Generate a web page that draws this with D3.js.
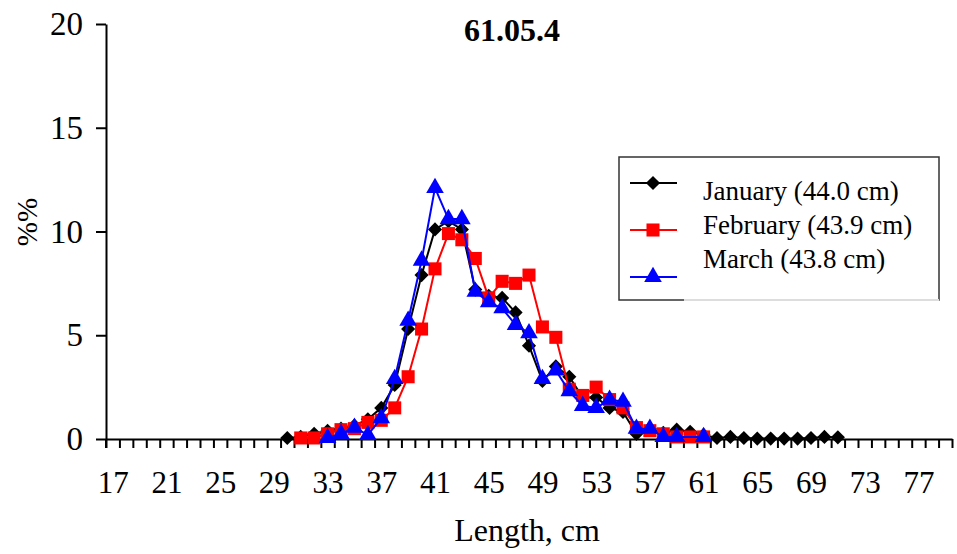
<!DOCTYPE html>
<html>
<head>
<meta charset="utf-8">
<script src="https://cdn.jsdelivr.net/npm/d3@7"></script>
<style>
  body { margin: 0; background: #fff; }
  text { font-family: "Liberation Serif", "DejaVu Serif", serif; fill: #000; }
</style>
</head>
<body>
<div id="chart"></div>
<script>
// categories (length, cm) and tick labels
var lengths = d3.range(17, 80);
var xLabels = [17, 21, 25, 29, 33, 37, 41, 45, 49, 53, 57, 61, 65, 69, 73, 77];
var yTicks = [0, 5, 10, 15, 20];

// series values, %% by length class
var janLen = d3.range(30, 72);
var janVal = [0.05, 0.1, 0.25, 0.4, 0.5, 0.65, 0.95, 1.5, 2.6, 5.3, 7.9, 10.1, 10.5, 10.1,
  7.2, 6.9, 6.8, 6.1, 4.5, 2.8, 3.5, 3.0, 2.0, 2.0, 1.5, 1.3, 0.25, 0.5, 0.3, 0.45, 0.35, 0.2,
  0.05, 0.1, 0.05, 0.02, 0.02, 0.02, 0.02, 0.05, 0.1, 0.08];
var febLen = d3.range(31, 62);
var febVal = [0.05, 0.05, 0.25, 0.45, 0.5, 0.8, 0.9, 1.5, 3.0, 5.3, 8.2, 9.9, 9.6, 8.7,
  6.8, 7.6, 7.5, 7.9, 5.4, 4.9, 2.4, 2.1, 2.5, 1.9, 1.5, 0.55, 0.4, 0.25, 0.1, 0.1, 0.1];
var marLen = d3.range(33, 62);
var marVal = [0.05, 0.25, 0.55, 0.2, 1.0, 2.9, 5.7, 8.6, 12.1, 10.6, 10.6, 7.1, 6.6, 6.3,
  5.5, 5.1, 2.9, 3.3, 2.3, 1.6, 1.5, 1.9, 1.8, 0.5, 0.5, 0.1, 0.1, null, 0.1];

var seriesNames = ["January (44.0 cm)", "February (43.9 cm)", "March (43.8 cm)"];
var seriesColors = ["#000000", "#ff0000", "#0000ff"];
var seriesShapes = [d3.symbolSquare, d3.symbolSquare, d3.symbolTriangle];
var seriesSizes = [100, 170, 135];
var seriesRotate = [45, 0, 0];

function pairs(ls, vs) {
  return ls.map(function(l, i) { return {x: l, y: vs[i]}; })
    .filter(function(d) { return d.y != null; });
}
var series = [pairs(janLen, janVal), pairs(febLen, febVal), pairs(marLen, marVal)];

var W = 957, H = 554;
var plotLeft = 106, plotRight = 952, plotTop = 24, plotBottom = 439;

var svg = d3.select("#chart").append("svg")
    .attr("width", W)
    .attr("height", H);

var xScale = d3.scaleLinear()
    .domain([16.5, 79.5])
    .range([plotLeft, plotRight]);

var yScale = d3.scaleLinear()
    .domain([0, 20])
    .range([plotBottom, plotTop]);

// x tick marks between categories
svg.append("g")
    .attr("transform", "translate(0," + plotBottom + ")")
    .call(d3.axisBottom(xScale)
        .tickValues(d3.range(16.5, 79.6, 1))
        .tickSize(9)
        .tickSizeOuter(0)
        .tickFormat(""))
    .call(function(g) {
      g.selectAll("line").attr("stroke", "#000").attr("stroke-width", 2);
      g.select(".domain").attr("stroke", "#000").attr("stroke-width", 2);
    });

// x labels
svg.append("g")
    .attr("transform", "translate(0," + plotBottom + ")")
    .call(d3.axisBottom(xScale)
        .tickValues(xLabels)
        .tickSize(0)
        .tickPadding(32))
    .call(function(g) {
      g.select(".domain").remove();
      g.selectAll("text")
          .style("font-family", "Liberation Serif")
          .style("font-size", "31px");
    });

// y axis
svg.append("g")
    .attr("transform", "translate(" + plotLeft + ",0)")
    .call(d3.axisLeft(yScale)
        .tickValues(yTicks)
        .tickSize(10)
        .tickSizeOuter(0)
        .tickPadding(13))
    .call(function(g) {
      g.selectAll("line").attr("stroke", "#000").attr("stroke-width", 2);
      g.select(".domain").attr("stroke", "#000").attr("stroke-width", 2);
      g.selectAll("text")
          .style("font-family", "Liberation Serif")
          .style("font-size", "33px");
    });

svg.append("line")
    .attr("x1", plotLeft).attr("x2", plotLeft)
    .attr("y1", plotBottom).attr("y2", plotBottom + 9)
    .attr("stroke", "#000")
    .attr("stroke-width", 2);

// series
var line = d3.line()
    .x(function(d) { return xScale(d.x); })
    .y(function(d) { return yScale(d.y); });

series.forEach(function(data, i) {
  var g = svg.append("g");
  g.append("path")
      .datum(data)
      .attr("fill", "none")
      .attr("stroke", seriesColors[i])
      .attr("stroke-width", 2)
      .attr("d", line);
  g.selectAll("path.pt")
      .data(data)
      .enter().append("path")
      .attr("class", "pt")
      .attr("d", d3.symbol().type(seriesShapes[i]).size(seriesSizes[i]))
      .attr("transform", function(d) {
        return "translate(" + xScale(d.x) + "," + yScale(d.y) + ") rotate(" + seriesRotate[i] + ")";
      })
      .attr("fill", seriesColors[i]);
});

// title and axis titles
svg.append("text")
    .attr("x", 512)
    .attr("y", 41)
    .attr("text-anchor", "middle")
    .style("font-size", "32px")
    .style("font-weight", "bold")
    .text("61.05.4");

svg.append("text")
    .attr("x", 527)
    .attr("y", 541)
    .attr("text-anchor", "middle")
    .style("font-size", "32px")
    .text("Length, cm");

svg.append("text")
    .attr("transform", "translate(37,222) rotate(-90)")
    .attr("text-anchor", "middle")
    .style("font-size", "29px")
    .text("%%");

// legend
var legend = svg.append("g");
legend.append("rect")
    .attr("x", 619).attr("y", 157)
    .attr("width", 320).attr("height", 143)
    .attr("fill", "#fff")
    .attr("stroke", "#333")
    .attr("stroke-width", 1.5);
legend.append("line")
    .attr("x1", 684).attr("x2", 939)
    .attr("y1", 300).attr("y2", 300)
    .attr("stroke", "#ddd")
    .attr("stroke-width", 2);

var rowY = [183, 230, 277];
var textY = [200, 234, 268];
seriesNames.forEach(function(name, i) {
  legend.append("line")
      .attr("x1", 630).attr("x2", 677)
      .attr("y1", rowY[i]).attr("y2", rowY[i])
      .attr("stroke", seriesColors[i])
      .attr("stroke-width", 2);
  legend.append("path")
      .attr("d", d3.symbol().type(seriesShapes[i]).size(seriesSizes[i]))
      .attr("transform", "translate(653," + rowY[i] + ") rotate(" + seriesRotate[i] + ")")
      .attr("fill", seriesColors[i]);
  legend.append("text")
      .attr("x", 703)
      .attr("y", textY[i])
      .style("font-size", "27px")
      .text(name);
});
</script>
</body>
</html>
